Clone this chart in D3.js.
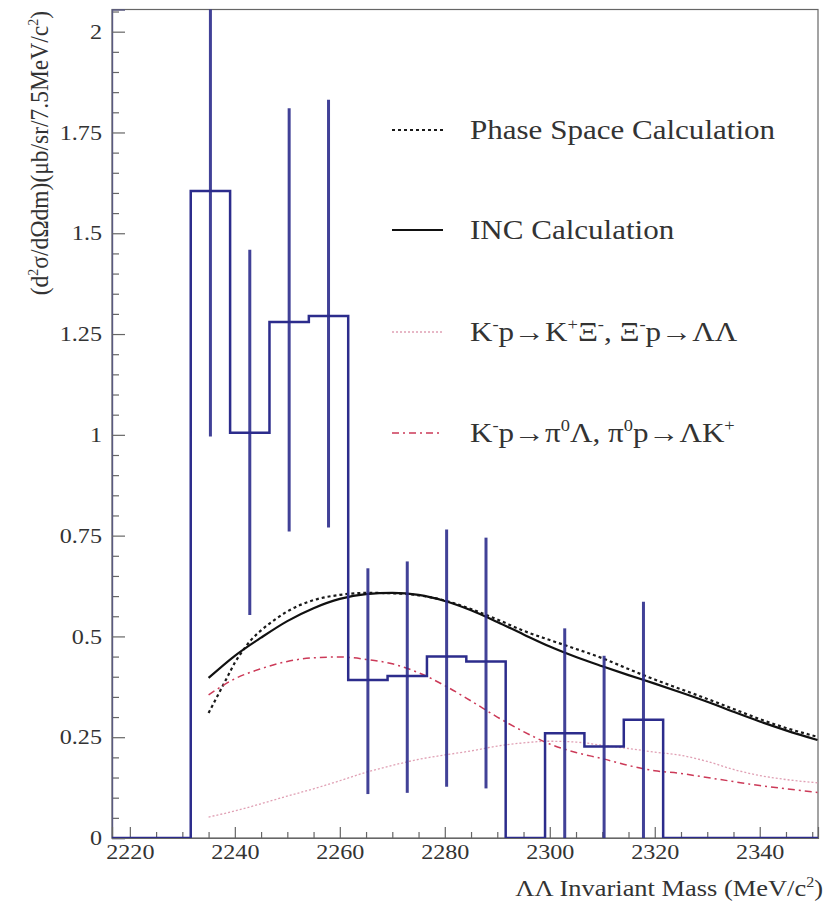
<!DOCTYPE html>
<html>
<head>
<meta charset="utf-8">
<script src="https://cdn.jsdelivr.net/npm/d3@7"></script>
<style>
  html, body { margin: 0; padding: 0; background: #fff; }
  svg { display: block; }
  text { font-family: "Liberation Serif", "Times New Roman", serif; fill: #333; }
</style>
</head>
<body>
<svg id="chart" width="834" height="901"></svg>
<script>
// ---------------- DATA ----------------
const binEdges = [2216.6, 2224.1, 2231.6, 2239.1, 2246.6, 2254.1, 2261.6, 2269.1, 2276.6,
                  2284.1, 2291.6, 2299.1, 2306.6, 2314.1, 2321.6, 2329.1, 2336.6, 2344.1, 2351.6];
const binValues = [0, 0, 1.605, 1.005, 1.28, 1.295, 0.392, 0.402, 0.45, 0.438, 0, 0.26, 0.227, 0.293, 0, 0, 0, 0];
const errLow  = [null, null, 0.996, 0.553, 0.76, 0.77, 0.109, 0.112, 0.127, 0.123, null, 0, 0, 0, null, null, null, null];
const errHigh = [null, null, 2.3, 1.459, 1.81, 1.831, 0.669, 0.686, 0.765, 0.745, null, 0.52, 0.452, 0.586, null, null, null, null];

const incX = [2235, 2240, 2245, 2250, 2255, 2260, 2265, 2270, 2275, 2280, 2285, 2290, 2295, 2300,
              2305, 2310, 2315, 2320, 2325, 2330, 2335, 2340, 2345, 2351];
const incY = [0.397, 0.452, 0.497, 0.538, 0.570, 0.593, 0.605, 0.608, 0.603, 0.588, 0.565, 0.536, 0.505, 0.475,
              0.449, 0.426, 0.404, 0.383, 0.361, 0.338, 0.313, 0.289, 0.267, 0.243];

const phaseX = [2235, 2236, 2237, 2238, 2239, 2240, 2241, 2243, 2245, 2248, 2250, 2255, 2260, 2265, 2270, 2275,
                2280, 2285, 2290, 2295, 2300, 2305, 2310, 2315, 2320, 2325, 2330, 2335, 2340, 2345, 2351];
const phaseY = [0.31, 0.335, 0.36, 0.385, 0.41, 0.435, 0.455, 0.49, 0.515, 0.545, 0.562, 0.59, 0.603, 0.608, 0.607, 0.602,
                0.589, 0.568, 0.542, 0.514, 0.491, 0.469, 0.446, 0.419, 0.393, 0.369, 0.345, 0.32, 0.295, 0.273, 0.251];

const xiX = [2235, 2240, 2245, 2250, 2255, 2260, 2265, 2270, 2275, 2280, 2285, 2290, 2295, 2300,
             2305, 2310, 2315, 2320, 2325, 2330, 2335, 2340, 2345, 2351];
const xiY = [0.052, 0.067, 0.085, 0.104, 0.122, 0.142, 0.163, 0.18, 0.195, 0.206, 0.216, 0.228, 0.236, 0.24,
             0.238, 0.23, 0.222, 0.213, 0.205, 0.19, 0.17, 0.155, 0.145, 0.137];

const piX = [2235, 2240, 2245, 2250, 2255, 2260, 2265, 2270, 2275, 2280, 2285, 2290, 2295, 2300,
             2305, 2310, 2315, 2320, 2325, 2330, 2335, 2340, 2345, 2351];
const piY = [0.355, 0.395, 0.42, 0.438, 0.447, 0.449, 0.443, 0.432, 0.41, 0.378, 0.34, 0.3, 0.264, 0.233,
             0.212, 0.197, 0.18, 0.167, 0.16, 0.15, 0.14, 0.13, 0.122, 0.113];

const xMajorTicks = [2220, 2240, 2260, 2280, 2300, 2320, 2340];
const xTickLabels = ["2220", "2240", "2260", "2280", "2300", "2320", "2340"];
const yMajorTicks = [0, 0.25, 0.5, 0.75, 1, 1.25, 1.5, 1.75, 2];
const yTickLabels = ["0", "0.25", "0.5", "0.75", "1", "1.25", "1.5", "1.75", "2"];

const legendLabels = ["Phase Space Calculation", "INC Calculation",
                      "K⁻p→K⁺Ξ⁻, Ξ⁻p→ΛΛ", "K⁻p→π⁰Λ, π⁰p→ΛK⁺"];

// ---------------- LAYOUT ----------------
const L = 112, R = 818, T = 9.5, B = 838;
const SX = 1.15; // horizontal stretch of the reference text
const svg = d3.select("#chart");

const x = d3.scaleLinear().domain([2216.6, 2351.1]).range([L, R]);
const y = d3.scaleLinear().domain([0, 2.055]).range([B, T]);

svg.append("defs").append("clipPath").attr("id", "plotclip")
  .append("rect").attr("x", L).attr("y", T).attr("width", R - L).attr("height", B - T);

function stretch(sel, sx) {
  sel.each(function() {
    const t = d3.select(this);
    const tx = +t.attr("x") || 0, ty = +t.attr("y") || 0;
    t.attr("x", 0).attr("y", 0)
     .attr("transform", `translate(${tx},${ty}) scale(${sx},1)`);
  });
}

// frame
svg.append("rect").attr("x", L).attr("y", T).attr("width", R - L).attr("height", B - T)
  .attr("fill", "none").attr("stroke", "#666").attr("stroke-width", 1.2);

// minor ticks
const yMinor = d3.range(0, 2.0501, 0.05).filter(v => !yMajorTicks.some(m => Math.abs(m - v) < 1e-6));
const xMinor = d3.range(2220, 2351, 5).filter(v => !xMajorTicks.includes(v));

svg.append("g").attr("transform", `translate(${L},0)`)
  .call(d3.axisLeft(y).tickValues(yMinor).tickSize(-7).tickFormat(""))
  .call(g => g.select(".domain").remove())
  .call(g => g.selectAll("line").attr("stroke", "#666").attr("stroke-width", 1.2));
svg.append("g").attr("transform", `translate(0,${B})`)
  .call(d3.axisBottom(x).tickValues(xMinor).tickSize(-6).tickFormat(""))
  .call(g => g.select(".domain").remove())
  .call(g => g.selectAll("line").attr("stroke", "#666").attr("stroke-width", 1.2));

// major axes
const yAxis = svg.append("g").attr("transform", `translate(${L},0)`)
  .call(d3.axisLeft(y).tickValues(yMajorTicks).tickSize(-13).tickPadding(10)
        .tickFormat((d, i) => yTickLabels[i]));
yAxis.select(".domain").attr("stroke", "#5a5a80").attr("stroke-width", 1.4);
yAxis.selectAll("line").attr("stroke", "#666").attr("stroke-width", 1.2);
yAxis.selectAll("text").attr("font-size", 21).attr("font-family", "Liberation Serif").attr("fill", "#333");
stretch(yAxis.selectAll("text"), SX);

const xAxis = svg.append("g").attr("transform", `translate(0,${B})`)
  .call(d3.axisBottom(x).tickValues(xMajorTicks).tickSize(-11).tickPadding(6)
        .tickFormat((d, i) => xTickLabels[i]));
xAxis.select(".domain").attr("stroke", "#666").attr("stroke-width", 1.2);
xAxis.selectAll("line").attr("stroke", "#666").attr("stroke-width", 1.2);
xAxis.selectAll("text").attr("font-size", 21).attr("font-family", "Liberation Serif").attr("fill", "#333");
stretch(xAxis.selectAll("text"), SX);

// axis titles
const xt = svg.append("text").attr("text-anchor", "end").attr("font-size", 23)
  .attr("transform", `translate(823,896) scale(${SX},1)`);
xt.append("tspan").text("ΛΛ Invariant Mass (MeV/c");
xt.append("tspan").attr("font-size", 14).attr("dy", -9).text("2");
xt.append("tspan").attr("dy", 9).text(")");

const yt = svg.append("text").attr("text-anchor", "end").attr("font-size", 23.5)
  .attr("transform", `translate(48,11) rotate(-90) scale(1,1.05)`);
yt.append("tspan").text("(d");
yt.append("tspan").attr("font-size", 14).attr("dy", -10).text("2");
yt.append("tspan").attr("dy", 10).text("σ/dΩdm)(μb/sr/7.5MeV/c");
yt.append("tspan").attr("font-size", 14).attr("dy", -10).text("2");
yt.append("tspan").attr("dy", 10).text(")");

// ---------------- CURVES ----------------
const plot = svg.append("g").attr("clip-path", "url(#plotclip)");
const line = d3.line().x(d => x(d[0])).y(d => y(d[1])).curve(d3.curveMonotoneX);

const styles = [
  { xs: phaseX, ys: phaseY, stroke: "#1a1a1a", width: 2.2, dash: "3,3" },
  { xs: incX,   ys: incY,   stroke: "#111",    width: 2.2, dash: null },
  { xs: xiX,    ys: xiY,    stroke: "#e0a0b4", width: 1.3, dash: "2,2" },
  { xs: piX,    ys: piY,    stroke: "#cc3a58", width: 1.5, dash: "7,4,2,4" }
];
styles.forEach(s => {
  plot.append("path").datum(s.xs.map((v, i) => [v, s.ys[i]]))
    .attr("d", line).attr("fill", "none")
    .attr("stroke", s.stroke).attr("stroke-width", s.width)
    .attr("stroke-dasharray", s.dash);
});

// ---------------- HISTOGRAM ----------------
const histPts = binValues.map((v, i) => [binEdges[i], v]);
histPts.push([binEdges[binEdges.length - 1], binValues[binValues.length - 1]]);
const histLine = d3.line().x(d => x(d[0])).y(d => y(d[1])).curve(d3.curveStepAfter);
plot.append("path").datum(histPts).attr("d", histLine).attr("fill", "none")
  .attr("stroke", "#2c2c8c").attr("stroke-width", 2.5);

const errs = binValues.map((v, i) => ({ c: (binEdges[i] + binEdges[i + 1]) / 2, lo: errLow[i], hi: errHigh[i] }))
  .filter(d => d.lo !== null);
plot.selectAll("line.err").data(errs).enter().append("line")
  .attr("x1", d => x(d.c)).attr("x2", d => x(d.c))
  .attr("y1", d => y(d.lo)).attr("y2", d => y(d.hi))
  .attr("stroke", "#2c2c8c").attr("stroke-opacity", 0.9).attr("stroke-width", 3);

// ---------------- LEGEND ----------------
const legY = [130, 230, 332, 433];
const leg = svg.append("g");
styles.forEach((s, i) => {
  leg.append("line").attr("x1", 392).attr("x2", 443).attr("y1", legY[i]).attr("y2", legY[i])
    .attr("stroke", s.stroke).attr("stroke-width", s.width).attr("stroke-dasharray", s.dash);
});
function legText(i, parts) {
  const t = leg.append("text").attr("font-size", 27).attr("fill", "#2a2a2a")
    .attr("transform", `translate(470,${legY[i] + 9}) scale(${SX},1)`);
  parts.forEach(p => {
    const ts = t.append("tspan").text(p[0]);
    if (p[1] === "sup") ts.attr("font-size", 16).attr("dy", -11);
    if (p[1] === "down") ts.attr("dy", 11);
  });
}
legText(0, [[legendLabels[0]]]);
legText(1, [[legendLabels[1]]]);
legText(2, [["K"], ["-", "sup"], ["p→K", "down"], ["+", "sup"], ["Ξ", "down"], ["-", "sup"], [", Ξ", "down"], ["-", "sup"], ["p→ΛΛ", "down"]]);
legText(3, [["K"], ["-", "sup"], ["p→π", "down"], ["0", "sup"], ["Λ, π", "down"], ["0", "sup"], ["p→ΛK", "down"], ["+", "sup"]]);
</script>
</body>
</html>
